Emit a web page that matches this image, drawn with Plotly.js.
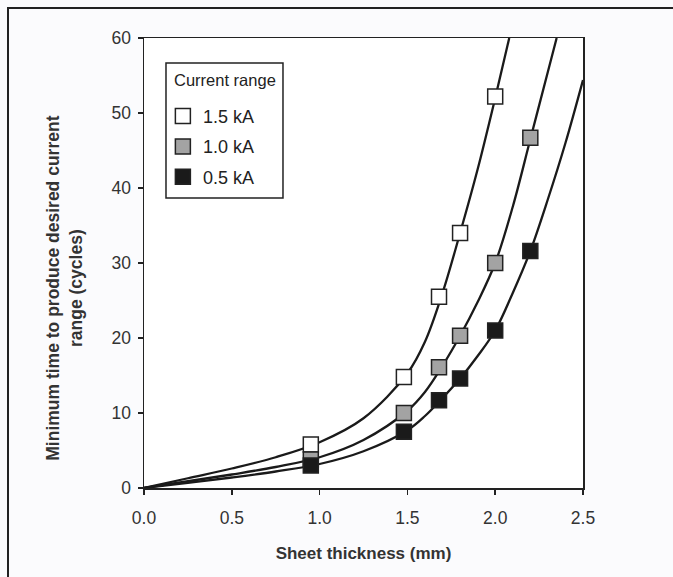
<!DOCTYPE html>
<html>
<head>
<meta charset="utf-8">
<script src="https://cdn.plot.ly/plotly-3.0.1.min.js"></script>
<style>
  html, body { margin: 0; padding: 0; background: #ffffff; }
  #frame { position: absolute; left: 7px; top: 7px; width: 670px; height: 580px;
           border-left: 2.5px solid #222; border-top: 2.5px solid #222; }
  #chart { position: absolute; left: 0; top: 0; width: 673px; height: 577px; }
</style>
</head>
<body>
<div id="chart"></div>
<div id="frame"></div>
<script>
// Measured data points
const thick15 = [0.95, 1.48, 1.68, 1.80, 2.00];
const time15  = [5.8, 14.8, 25.5, 34.0, 52.2];
const thick10 = [0.95, 1.48, 1.68, 1.80, 2.00, 2.20];
const time10  = [3.8, 10.0, 16.1, 20.3, 30.0, 46.7];
const thick05 = [0.95, 1.48, 1.68, 1.80, 2.00, 2.20];
const time05  = [3.0, 7.5, 11.7, 14.6, 21.0, 31.6];

// Fitted curves
const curveX15 = [0, 0.25, 0.5, 0.75, 1.0, 1.25, 1.5, 1.6, 1.7, 1.8, 1.9, 2.0, 2.08];
const curveY15 = [0, 1.3, 2.6, 4.1, 6.1, 9.3, 15.3, 19.5, 26.0, 34.0, 42.5, 52.0, 60.0];
const curveX10 = [0, 0.25, 0.5, 0.75, 1.0, 1.25, 1.5, 1.6, 1.7, 1.8, 1.9, 2.0, 2.1, 2.2, 2.3, 2.35];
const curveY10 = [0, 0.9, 1.8, 2.8, 4.1, 6.4, 10.3, 12.8, 16.3, 20.3, 24.8, 30.0, 37.5, 46.5, 55.5, 60.0];
const curveX05 = [0, 0.25, 0.5, 0.75, 1.0, 1.25, 1.5, 1.6, 1.7, 1.8, 1.9, 2.0, 2.1, 2.2, 2.3, 2.4, 2.5];
const curveY05 = [0, 0.7, 1.4, 2.2, 3.2, 4.9, 7.7, 9.6, 12.0, 14.6, 17.6, 21.0, 26.0, 31.6, 38.5, 46.0, 54.4];

const seriesNames = ['1.5 kA', '1.0 kA', '0.5 kA'];
const fillColors = ['#ffffff', '#a3a3a3', '#1a1a1a'];
const xTickVals = [0, 0.5, 1.0, 1.5, 2.0, 2.5];
const xTickText = ['0.0', '0.5', '1.0', '1.5', '2.0', '2.5'];
const yTickVals = [0, 10, 20, 30, 40, 50, 60];
const xTitle = 'Sheet thickness (mm)';
const yTitle = 'Minimum time to produce desired current<br>range (cycles)';
const legendTitle = 'Current range';

const lineStyle = {color: '#1a1a1a', width: 2.3, shape: 'spline', smoothing: 1};
function curve(x, y) {
  return {x: x, y: y, mode: 'lines', line: lineStyle, showlegend: false, hoverinfo: 'skip'};
}
function pts(x, y, i) {
  return {x: x, y: y, mode: 'markers', name: seriesNames[i], legendgroup: 'g' + i,
    marker: {symbol: 'square', size: 15, color: fillColors[i], line: {color: '#222', width: 1.5}}};
}

const data = [
  curve(curveX15, curveY15), curve(curveX10, curveY10), curve(curveX05, curveY05),
  pts(thick15, time15, 0), pts(thick10, time10, 1), pts(thick05, time05, 2)
];

const font = {family: 'Liberation Sans, Arial, sans-serif', size: 17, color: '#333'};
const layout = {
  width: 673, height: 577,
  margin: {l: 144, r: 90, t: 38, b: 89},
  paper_bgcolor: '#fbfbfd', plot_bgcolor: '#ffffff',
  font: font,
  showlegend: true,
  legend: {
    x: 0.043, y: 0.867, xanchor: 'left', yanchor: 'top',
    borderwidth: 0, bgcolor: 'rgba(0,0,0,0)',
    font: {size: 18, color: '#222'},
    traceorder: 'grouped', tracegroupgap: 4, itemwidth: 30
  },
  shapes: [{
    type: 'rect', xref: 'paper', yref: 'paper', layer: 'below',
    x0: 0.0501, x1: 0.3166, y0: 0.6444, y1: 0.9444,
    line: {color: '#222', width: 1.5}, fillcolor: '#ffffff'
  }],
  xaxis: {
    range: [0, 2.5], tickvals: xTickVals, ticktext: xTickText,
    ticks: 'outside', ticklen: 5, tickwidth: 1.5, tickcolor: '#222',
    ticklabelstandoff: 8,
    showline: true, linecolor: '#222', linewidth: 1.5, mirror: true,
    showgrid: false, zeroline: false,
    tickfont: {size: 17.5, color: '#333'},
    title: {text: xTitle, standoff: 20,
            font: {size: 17, weight: 'bold', color: '#333'}}
  },
  yaxis: {
    range: [0, 60], tickvals: yTickVals,
    ticks: 'outside', ticklen: 5, tickwidth: 1.5, tickcolor: '#222',
    ticklabelstandoff: 3,
    showline: true, linecolor: '#222', linewidth: 1.5, mirror: true,
    showgrid: false, zeroline: false,
    tickfont: {size: 17.5, color: '#333'}
  },
  annotations: [{
    text: yTitle, xref: 'paper', yref: 'paper', x: -0.18, y: 0.445,
    xanchor: 'center', yanchor: 'middle', textangle: -90, showarrow: false,
    align: 'center', font: {size: 17.5, weight: 'bold', color: '#333'}
  }, {
    text: legendTitle, xref: 'paper', yref: 'paper', x: 0.1834, y: 0.9067,
    xanchor: 'center', yanchor: 'middle', showarrow: false,
    font: {size: 16.5, color: '#222'}
  }]
};

Plotly.newPlot('chart', data, layout, {displayModeBar: false, staticPlot: true});
</script>
</body>
</html>
